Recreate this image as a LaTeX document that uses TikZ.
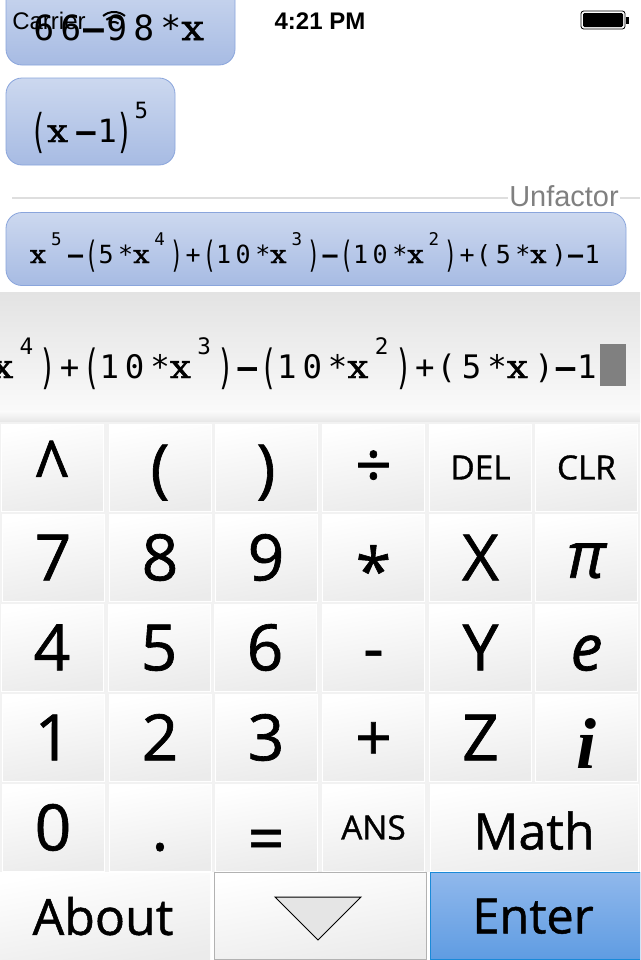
\documentclass[tikz,border=0pt]{standalone}
\usepackage{fontspec}
\usetikzlibrary{calc}
\setmainfont[FakeBold=1]{Open Sans}
\newfontfamily\exprfont[LetterSpace=18]{DejaVu Sans Mono}
\newfontfamily\varfont[FakeStretch=1.15,FakeBold=1.5]{DejaVu Serif}
\newfontfamily\statusfont{Liberation Sans}
\newfontfamily\ifont{Liberation Serif}
\definecolor{btnTop}{HTML}{CCD8EF}
\definecolor{btnBot}{HTML}{A7BBE3}
\definecolor{btnEdge}{HTML}{8AA5DC}
\definecolor{keyBot}{HTML}{EBEBEB}
\definecolor{padBg}{HTML}{F2F2F2}
\definecolor{enterTop}{HTML}{90B8EC}
\definecolor{enterBot}{HTML}{5F9CE2}
\definecolor{enterEdge}{HTML}{1A8AD8}
% pieces of the printed expressions
\newcommand{\xvar}{{\varfont x}\kern.2em}
\newcommand{\pw}[1]{\raisebox{.72em}{\fontsize{.7em}{1em}\selectfont #1}\kern.2em}
\newcommand{\opar}{\kern.05em\raisebox{-.16em}{\scalebox{.85}[1.45]{(}}}
\newcommand{\cpar}{\raisebox{-.16em}{\scalebox{.85}[1.45]{)}}\kern.05em}
\newcommand{\mn}{\kern.06em{\bfseries –}\kern.06em}
\newcommand{\pl}{\kern.06em+\kern.06em}
\begin{document}
\begin{tikzpicture}[
    x=0.75pt, y=-0.75pt,
    key/.style={rectangle, draw=white, line width=0.75pt, inner sep=0pt,
      top color=white, bottom color=keyBot, shading angle=10,
      minimum width=76.5pt, minimum height=65.25pt},
    mathkey/.style={key, font=\fontsize{48}{48}\selectfont,
      text height=34.3pt, text depth=0pt},
    smallkey/.style={key, font=\fontsize{25}{25}\selectfont,
      text height=17.9pt, text depth=0pt},
    wordkey/.style={font=\fontsize{37.5}{37.5}\selectfont,
      text height=26.8pt, text depth=0pt},
    calcbtn/.style={rectangle, rounded corners=12pt, draw=btnEdge, line width=0.6pt,
      top color=btnTop, bottom color=btnBot, inner sep=0pt},
    expr/.style={inner sep=0pt, font=\fontsize{#1}{#1}\selectfont\exprfont}
]
\clip (0,0) rectangle (640,960);
\fill[white] (0,0) rectangle (640,960);
% calculation history
\node[calcbtn, minimum width=171.75pt, minimum height=63.75pt] (first) at (120.5,22.5) {};
\node[calcbtn, minimum width=126.75pt, minimum height=65.25pt] (second) at (90.5,121.5) {};
\node[expr=26pt, anchor=base west] (firsttext) at (33,40) {66\mn 98*\xvar};
\node[expr=24pt, anchor=base west] (secondtext) at (29,142) {\opar\xvar\mn 1\cpar\pw{5}};
% divider with its label
\coordinate (divstart) at (12,198);
\coordinate (divend) at (640,198);
\draw[black!13, line width=1.5pt] (divstart) -- (divend);
\node[fill=white, inner sep=1pt, text=black!50, font=\fontsize{21.7}{21.7}\statusfont\selectfont] (unfactor) at (564,196) {Unfactor};
\node[calcbtn, minimum width=465pt, minimum height=54.75pt] (result) at (316,249) {};
\node[expr=18.75pt, anchor=base east] (resulttext) at (600,263)
  {\xvar\pw{5}\mn\opar 5*\xvar\pw{4}\cpar\pl\opar 10*\xvar\pw{3}\cpar\mn\opar 10*\xvar\pw{2}\cpar\pl(5*\xvar)\mn 1};
% entry line
\node[rectangle, inner sep=0pt, minimum width=480pt, minimum height=90pt,
      top color=black!11, bottom color=black!2] (entry) at (320,352) {};
\node[rectangle, inner sep=0pt, minimum width=480pt, minimum height=8pt,
      top color=black!2, bottom color=black!10] (entryedge) at (320,417) {};
\node[expr=24.3pt, anchor=base east] (entrytext) at (597,378)
  {\xvar\pw{4}\cpar\pl\opar 10*\xvar\pw{3}\cpar\mn\opar 10*\xvar\pw{2}\cpar\pl(5*\xvar)\mn 1};
\node[rectangle, fill=black!50, inner sep=0pt, minimum width=19.5pt, minimum height=31.5pt] (cursor) at (613,365) {};
% keypad
\fill[padBg] (0,422) rectangle (640,872);
\foreach \name/\cx/\cy/\txt/\dy in {
    open/160/467.5/(/0, close/266/467.5/)/0, div/373.5/467.5/÷/-2,
    seven/53/557.5/7/0, eight/160/557.5/8/0, nine/266/557.5/9/0,
    four/52/647.5/4/0, five/159/647.5/5/0, six/265/647.5/6/0, minus/373.5/647.5/-/0,
    one/53/737.5/1/0, two/160/737.5/2/0, three/266/737.5/3/0, plus/373.5/737.5/+/0,
    zero/53/827.5/0/0, dot/160/827.5/./0, equals/266/827.5/=/8,
    varx/480.5/557.5/X/0, vary/480.5/647.5/Y/0, varz/480.5/737.5/Z/0}
  \node[mathkey] (key\name) at (\cx,\cy) {\raisebox{-\dy pt}{\txt}};
\node[mathkey] (keypow) at (52,467.5) {\raisebox{-6pt}{\scalebox{1}[1.25]{\textasciicircum}}};
\node[mathkey] (keystar) at (373.5,557.5) {\raisebox{-10pt}{*}};
\node[mathkey] (keypi) at (586.5,557.5) {\raisebox{2pt}{\itshape π}};
\node[mathkey] (keye) at (586.5,647.5) {\itshape e};
\node[mathkey] (keyi) at (586.5,737.5) {\raisebox{-6pt}{\fontsize{54}{54}\ifont\bfseries\itshape\selectfont i}};
\foreach \name/\cx/\cy/\txt in {del/480.5/467.5/DEL, clr/586.5/467.5/CLR, ans/373.5/827.5/ANS}
  \node[smallkey] (key\name) at (\cx,\cy) {\txt};
\node[key, wordkey, minimum width=156pt] (keymath) at (534,827.5) {\raisebox{-3pt}{Math}};
% bottom bar
\node[key, wordkey, draw=none, minimum width=160.5pt] (about) at (103,917) {About};
\node[key, draw=black!30, minimum width=159pt] (hide) at (320,916) {};
\coordinate (tipleft) at (275,897);
\coordinate (tipright) at (361,897);
\coordinate (tipdown) at (318,940);
\draw[fill=black!10, line width=0.75pt, line join=miter] (tipleft) -- (tipright) -- (tipdown) -- cycle;
\node[rectangle, draw=enterEdge, line width=0.75pt, inner sep=0pt, top color=enterTop, bottom color=enterBot,
      minimum width=157.5pt, minimum height=65.25pt, font=\fontsize{36.5}{36.5}\selectfont,
      text height=26pt, text depth=0pt] (enter) at (535,916) {Enter\kern3pt};
% status bar
\node[anchor=base west, inner sep=0pt, font=\fontsize{18}{18}\statusfont\selectfont] (carrier) at (12,29) {Carrier};
\node[anchor=base, inner sep=0pt, font=\fontsize{18}{18}\statusfont\bfseries\selectfont] (clock) at (320,29) {4:21 PM};
\coordinate (wifi) at (114,29);
\foreach \rad in {7,12,17}
  \draw[line width=1.5pt] ($(wifi)+(50:\rad*0.75pt)$) arc[start angle=50, end angle=130, radius=\rad*0.75pt];
\node[rectangle, rounded corners=2pt, draw=black, line width=0.6pt, fill=white, inner sep=0pt,
      minimum width=33pt, minimum height=13.5pt] (battery) at (603,20) {};
\node[rectangle, rounded corners=1pt, fill=black, inner sep=0pt,
      minimum width=30pt, minimum height=10.5pt] (batterylevel) at (603,20) {};
\fill (626,17) rectangle (629,24);
\end{tikzpicture}
\end{document}
